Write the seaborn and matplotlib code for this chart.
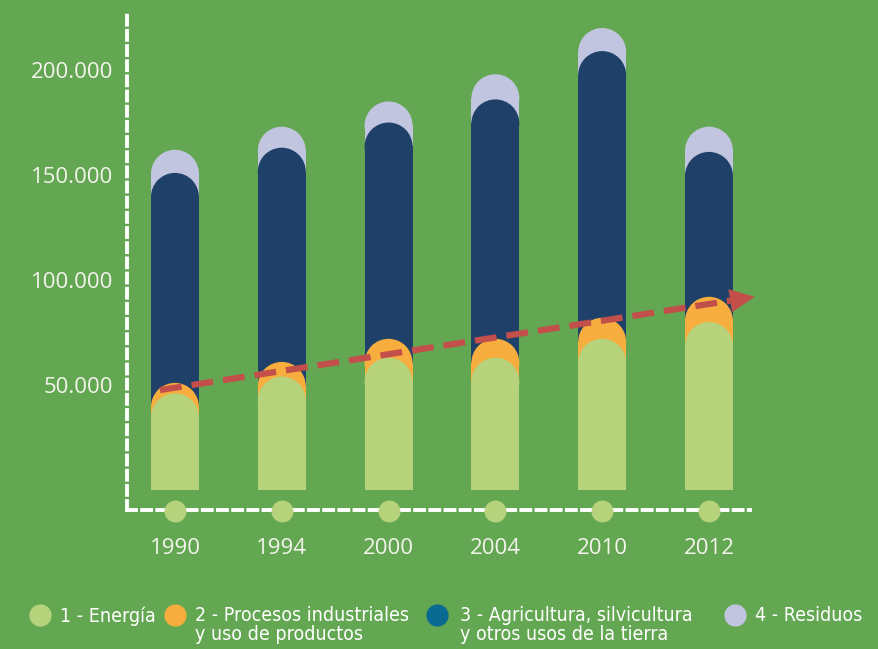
import numpy as np
import matplotlib
matplotlib.use("Agg")
import matplotlib.pyplot as plt
from matplotlib.patches import Ellipse
from matplotlib.lines import Line2D
import seaborn as sns

# Emisiones por sector
anios = ['1990', '1994', '2000', '2004', '2010', '2012']
energia = [46000, 54000, 63000, 63000, 72000, 80000]
procesos = [5000, 7000, 9000, 9000, 10000, 12000]
agricultura = [100000, 102000, 103000, 114000, 127000, 69000]
residuos = [11000, 10000, 10000, 12000, 11000, 12000]

sectores = ['1 - Energía', '2 - Procesos industriales\ny uso de productos',
            '3 - Agricultura, silvicultura\ny otros usos de la tierra', '4 - Residuos']
colores = ['#b6d37b', '#f8ad3f', '#1f4068', '#c1c5df']
color_leyenda = ['#b6d37b', '#f8ad3f', '#0b6a91', '#c1c5df']

yticks = [50000, 100000, 150000, 200000]
ytick_labels = ['50.000', '100.000', '150.000', '200.000']

# linea de tendencia (inicio y fin)
tendencia_x = [-0.14, 5.43]
tendencia_y = [47600, 92000]

verde = '#63a752'
blanco = '#f4f4ec'
rojo = '#c24f4a'

fig = plt.figure(figsize=(8.79, 6.49), dpi=100, facecolor=verde)
W, H = 879, 649
ax = fig.add_axes([127 / W, (H - 510) / H, (750 - 127) / W, (510 - 15) / H])
ax.set_facecolor('none')

ancho = 0.449
px_por_unidad = 2.1 / 1000  # pixeles por unidad de emision
r = 24 / px_por_unidad      # radio del remate en unidades de datos

capas = np.cumsum([energia, procesos, agricultura, residuos], axis=0)

# se dibujan de atras hacia adelante
for k in [3, 2, 1, 0]:
    tope = capas[k]
    z = 10 - k
    sns.barplot(x=anios, y=tope - r, color=colores[k], width=ancho,
                saturation=1, linewidth=0, ax=ax, zorder=z)
    for i, t in enumerate(tope):
        ax.add_patch(Ellipse((i, t - r), ancho, 2 * r, facecolor=colores[k],
                             edgecolor='none', zorder=z))

# circulos bajo cada barra
ax.scatter(range(len(anios)), [-10000] * len(anios), s=250, color=colores[0],
           zorder=12, clip_on=False, linewidths=0)

# flecha de tendencia
f = 1 - 25 / 602
xb = tendencia_x[0] + (tendencia_x[1] - tendencia_x[0]) * f
yb = tendencia_y[0] + (tendencia_y[1] - tendencia_y[0]) * f
ax.plot([tendencia_x[0], xb], [tendencia_y[0], yb], color=rojo, lw=4.5,
        ls=(0, (3.5, 1.6)), zorder=20, clip_on=False)
ax.annotate('', xy=(tendencia_x[1], tendencia_y[1]), xytext=(xb, yb),
            arrowprops=dict(arrowstyle='-|>,head_length=0.9,head_width=0.42',
                            color=rojo, lw=0, mutation_scale=20,
                            shrinkA=0, shrinkB=0), zorder=21,
            annotation_clip=False)

ax.set_xlim(-0.449, 5.384)
ax.set_ylim(-9524, 226190)

for s in ['top', 'right']:
    ax.spines[s].set_visible(False)
for s in ['left', 'bottom']:
    ax.spines[s].set_color('white')
    ax.spines[s].set_linewidth(2.8)
    ax.spines[s].set_linestyle((0, (2.3, 1.6)))
    ax.spines[s].set_zorder(11)

ax.set_yticks(yticks)
ax.set_yticklabels(ytick_labels, fontsize=16, color=blanco, family='Open Sans')
ax.set_xticks(range(len(anios)))
ax.set_xticklabels(anios, fontsize=16, color=blanco, family='Open Sans')
ax.tick_params(axis='y', length=0, pad=10)
ax.tick_params(axis='x', length=0, pad=20)
ax.set_xlabel('')
ax.set_ylabel('')

# leyenda manual
pos_marcador = [40, 175, 437, 735]
pos_texto = [60, 195, 460, 755]
for k in range(4):
    fig.add_artist(Line2D([pos_marcador[k] / W], [1 - 615 / H], marker='o',
                          markersize=15, color=color_leyenda[k], lw=0,
                          transform=fig.transFigure))
    fig.text(pos_texto[k] / W, 1 - 606 / H, sectores[k], color='white',
             fontsize=14, va='top', ha='left', linespacing=1.0,
             family='DejaVu Sans', fontstretch='condensed')

fig.savefig('out.png', dpi=100, facecolor=verde)
